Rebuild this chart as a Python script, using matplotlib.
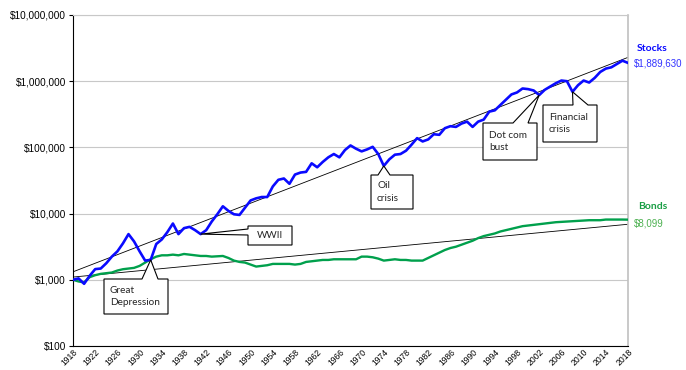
import matplotlib
matplotlib.use("Agg")
import matplotlib.pyplot as plt
from matplotlib.patches import Polygon
from matplotlib.transforms import IdentityTransform
from matplotlib.ticker import FixedLocator, FuncFormatter
import numpy as np

# growth of $1,000 invested at the end of 1918
years = list(range(1918, 2019))

stocks = [1000, 1050, 870, 1150, 1450, 1480, 1780, 2240, 2690, 3550,
          4900, 3800, 2690, 1950, 2000, 3470, 4070, 5250, 7080, 4900,
          6030, 6310, 5620, 4900, 5620, 7590, 9770, 12900, 11000, 9770,
          9550, 12300, 15800, 17000, 17800, 17800, 25700, 32400, 33900, 28200,
          38900, 41700, 42700, 57500, 50100, 60300, 70800, 79400, 70800, 91200,
          107000, 95500, 87100, 93300, 102000, 79400, 52500, 66100, 77600, 79400,
          89100, 110000, 138000, 123000, 132000, 158000, 155000, 195000, 209000, 204000,
          229000, 245000, 204000, 245000, 263000, 347000, 363000, 437000, 525000, 631000,
          676000, 776000, 759000, 724000, 617000, 741000, 832000, 933000, 1023000, 1000000,
          692000, 871000, 1023000, 955000, 1122000, 1380000, 1549000, 1622000, 1820000, 2042000,
          1889630]

bonds = [1000, 944, 912, 1096, 1175, 1230, 1259, 1288, 1380, 1445,
         1479, 1514, 1622, 1820, 2042, 2239, 2344, 2344, 2399, 2344,
         2455, 2399, 2344, 2291, 2291, 2239, 2265, 2291, 2138, 1950,
         1862, 1820, 1698, 1585, 1622, 1660, 1738, 1738, 1738, 1738,
         1698, 1738, 1862, 1905, 1950, 1995, 1995, 2042, 2042, 2042,
         2042, 2042, 2239, 2239, 2188, 2089, 1950, 1995, 2042, 1995,
         1995, 1950, 1950, 1950, 2138, 2344, 2570, 2818, 3020, 3162,
         3388, 3631, 3890, 4266, 4571, 4786, 5012, 5370, 5623, 5888,
         6166, 6457, 6607, 6761, 6918, 7079, 7244, 7413, 7499, 7586,
         7674, 7762, 7852, 7943, 7943, 7943, 8128, 8128, 8128, 8128,
         8099]

trend_years = [1918, 2018]
stock_trend = [1320, 2290000]
bond_trend = [1100, 6900]

year_ticks = list(range(1918, 2019, 4))
value_ticks = [100, 1000, 10000, 100000, 1000000, 10000000]

H = 370
fig = plt.figure(figsize=(6.86, 3.70), dpi=100)
ax = fig.add_axes([73 / 686, 24 / 370, 555 / 686, 331 / 370])

ax.plot(trend_years, stock_trend, color="black", lw=0.6, zorder=2)
ax.plot(trend_years, bond_trend, color="black", lw=0.6, zorder=2)
ax.plot(years, bonds, color="#00a04c", lw=1.7, zorder=3)
ax.plot(years, stocks, color="#0a0aff", lw=1.9, zorder=4)

ax.set_yscale("log")
ax.set_ylim(100, 10000000)
ax.set_xlim(1918, 2018)
ax.yaxis.set_major_locator(FixedLocator(value_ticks))
ax.yaxis.set_minor_locator(FixedLocator([]))
ax.yaxis.set_major_formatter(FuncFormatter(lambda v, p: "${:,.0f}".format(v)))
ax.set_xticks(year_ticks)
ax.set_xticklabels([str(y) for y in year_ticks], rotation=45, ha="right",
                   rotation_mode="anchor", fontsize=6.2, family="Liberation Sans")
for lab in ax.get_yticklabels():
    lab.set_family("Liberation Sans")
    lab.set_fontsize(7.2)
ax.tick_params(axis="y", length=3, width=0.8, pad=2)
ax.tick_params(axis="x", length=0, pad=1)
ax.grid(axis="y", color="#c8c8c8", lw=0.8)
ax.spines["left"].set_color("black")
ax.spines["bottom"].set_color("black")
ax.spines["right"].set_color("#c0c0c0")
ax.spines["top"].set_color("#c8c8c8")
ax.spines["right"].set_linewidth(1.2)

# end labels
ax.text(2018 + 1.5, 3100000, "Stocks", color="#0a0aff", fontsize=7.5,
        fontweight="bold", family="Lato", ha="left", va="center")
ax.text(2018 + 1.0, 1889630 * 0.97, "${:,}".format(stocks[-1]), color="#3333ff",
        fontsize=7, family="Liberation Sans", ha="left", va="center")
ax.text(2018 + 1.8, 13000, "Bonds", color="#1a9e45", fontsize=7.5,
        fontweight="bold", family="Lato", ha="left", va="center")
ax.text(2018 + 1.0, 7100, "${:,}".format(bonds[-1]), color="#4cb050",
        fontsize=7, family="Liberation Sans", ha="left", va="center")
for t in ax.texts:
    t.set_clip_on(False)

fig.canvas.draw()


def callout(text, year, box, base, side="top", pad=6):
    # box = (x0, y0, x1, y1) in pixels from the top-left corner
    tip = ax.transData.transform((year, stocks[years.index(year)]))
    x0, y0, x1, y1 = box
    top, bot = H - y0, H - y1
    if side == "top":
        pts = [(x0, top), (base[0], top), tuple(tip), (base[1], top),
               (x1, top), (x1, bot), (x0, bot)]
    else:
        pts = [(x0, top), (x1, top), (x1, bot), (x0, bot),
               (x0, H - base[1]), tuple(tip), (x0, H - base[0])]
    poly = Polygon(pts, closed=True, transform=IdentityTransform(),
                   facecolor="white", edgecolor="black", lw=0.8, zorder=6)
    fig.patches.append(poly)
    if side == "top":
        fig.text((x0 + pad) / 686, (top + bot) / 2 / H, text, fontsize=7.2,
                 family="Lato", color="#262626", ha="left", va="center",
                 linespacing=1.5, zorder=7)
    else:
        fig.text((x0 + x1) / 2 / 686, (top + bot) / 2 / H, text, fontsize=7.2,
                 family="Lato", color="#262626", ha="center", va="center", zorder=7)


callout("Great\nDepression", 1932, (104, 279, 168, 314), (142, 158))
callout("WWII", 1941, (248, 226, 292, 245), (229, 235), side="left")
callout("Oil\ncrisis", 1974, (371, 175, 413, 209), (378, 390))
callout("Dot com\nbust", 2002, (483, 123, 537, 160), (513, 528))
callout("Financial\ncrisis", 2008, (543, 105, 597, 142), (573, 588))

fig.savefig("out.png", dpi=100)
